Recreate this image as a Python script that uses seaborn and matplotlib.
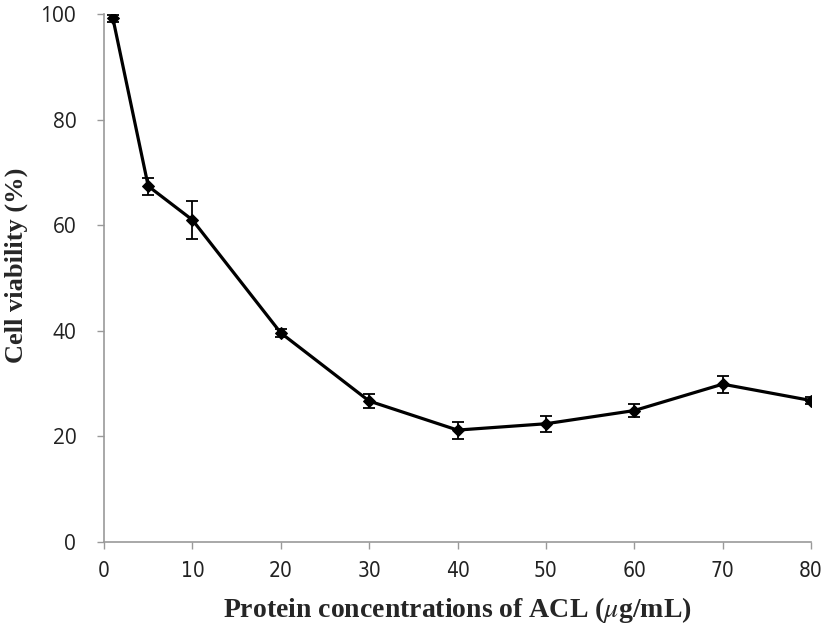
import numpy as np
import matplotlib
matplotlib.use("Agg")
import matplotlib.pyplot as plt
import seaborn as sns
import pandas as pd

# concentrations (ug/mL), viability (%), error (sd)
conc = [1, 5, 10, 20, 30, 40, 50, 60, 70, 80]
viability = [99.2, 67.4, 61.0, 39.6, 26.7, 21.2, 22.4, 24.9, 29.9, 26.8]
err = [0.7, 1.6, 3.6, 0.7, 1.3, 1.6, 1.5, 1.3, 1.6, 0.7]
xticks = [0, 10, 20, 30, 40, 50, 60, 70, 80]
yticks = [0, 20, 40, 60, 80, 100]

df = pd.DataFrame({"conc": conc, "viability": viability, "err": err})

sns.set_style("white")
plt.rcParams["mathtext.fontset"] = "stix"

fig = plt.figure(figsize=(8.27, 6.28), dpi=100)
ax = fig.add_axes([0.1258, 0.1369, 0.8549, 0.8408])

ax.errorbar(df["conc"], df["viability"], yerr=df["err"], fmt="none",
            ecolor="black", elinewidth=1.3, capsize=4, capthick=1.3, zorder=2)
sns.lineplot(data=df, x="conc", y="viability", ax=ax, color="black",
             linewidth=2.3, marker="D", markersize=6, markeredgecolor="black",
             zorder=3)

ax.set_xlim(0, 80)
ax.set_ylim(0, 100)
ax.set_xticks(xticks)
ax.set_yticks(yticks)
ax.set_xticklabels([str(t) for t in xticks], family="DejaVu Sans", fontstretch="condensed",
                   fontsize=15, color="#222222")
ax.set_yticklabels([str(t) for t in yticks], family="Open Sans", fontsize=15, color="#222222")

for s in ["top", "right"]:
    ax.spines[s].set_visible(False)
for s in ["left", "bottom"]:
    ax.spines[s].set_color("#999999")
    ax.spines[s].set_linewidth(1.2)

ax.tick_params(axis="y", direction="out", length=5, width=1, color="#999999", pad=15, left=True)
ax.tick_params(axis="x", direction="out", length=5, width=1, color="#999999", pad=9, bottom=True)

ax.set_xlabel(r"Protein concentrations of ACL ($\mu$g/mL)", family="Liberation Serif",
              fontweight="bold", fontsize=20, labelpad=10)
ax.set_ylabel("Cell viability (%)", family="Liberation Serif", fontweight="bold", fontsize=19)
ax.yaxis.set_label_coords(-0.108, 0.525)
ax.grid(False)

fig.savefig("out.png", dpi=100)
